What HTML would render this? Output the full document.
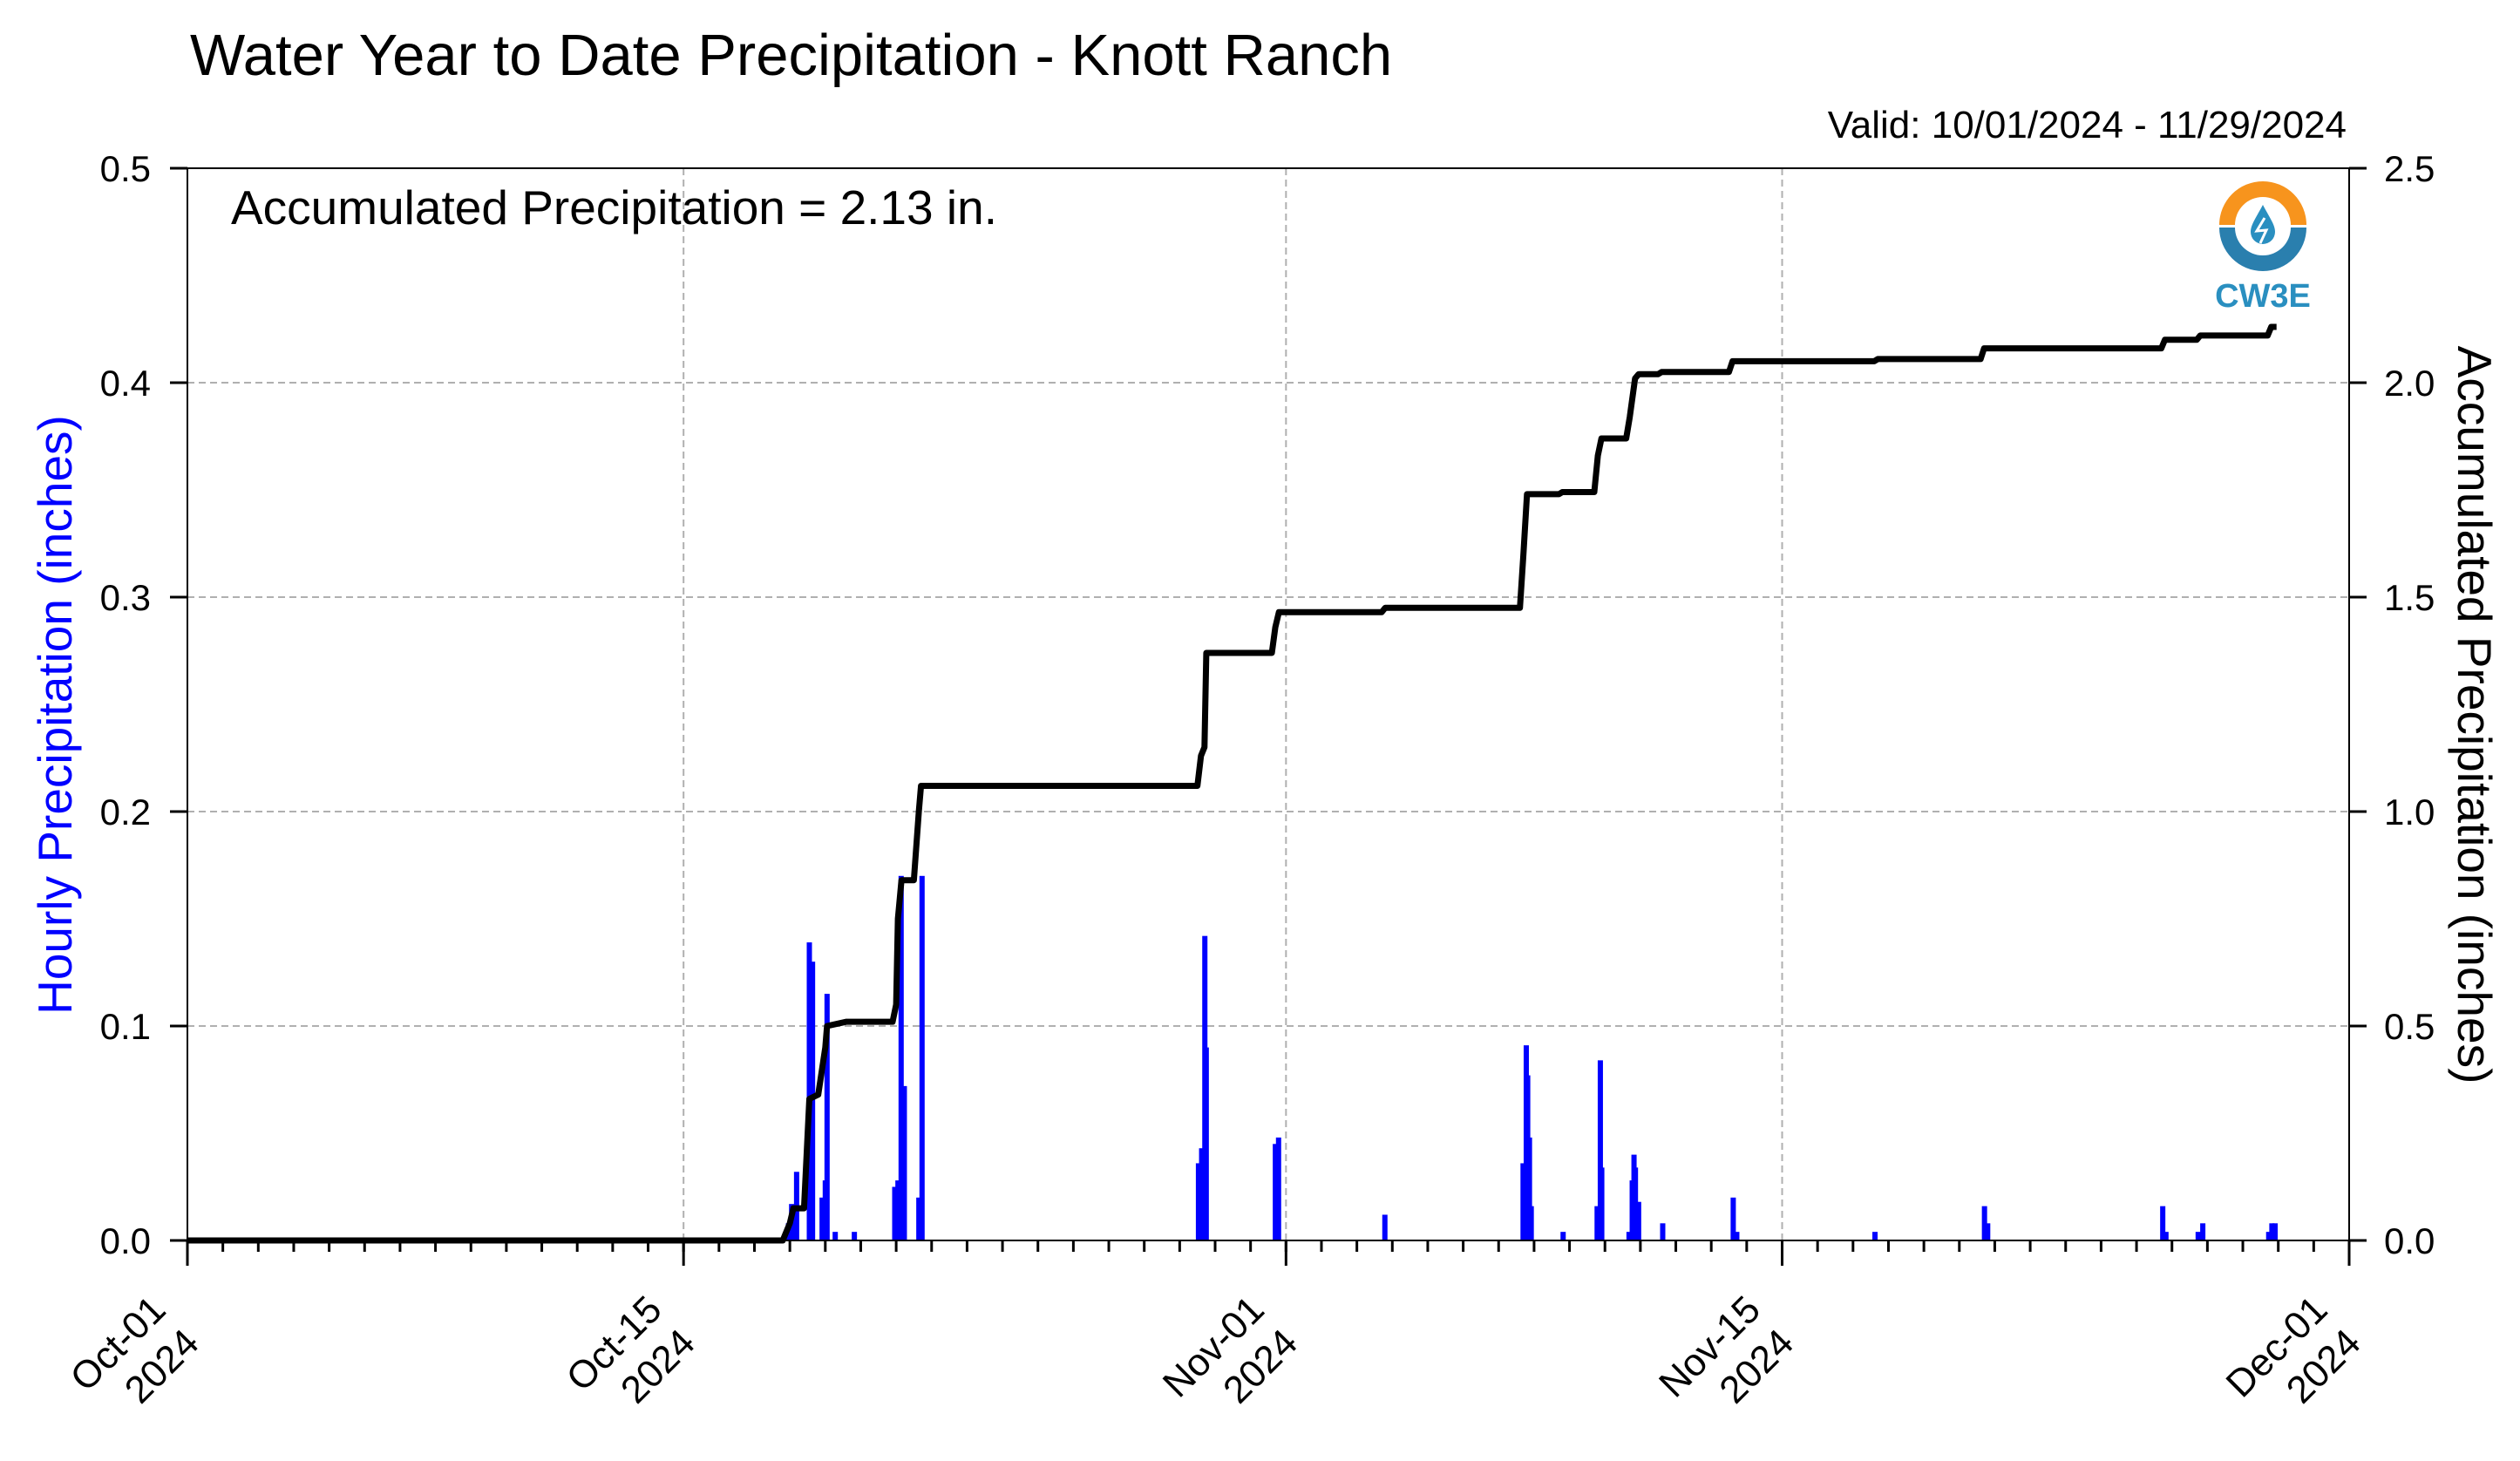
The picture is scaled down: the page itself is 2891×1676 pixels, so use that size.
<!DOCTYPE html>
<html><head><meta charset="utf-8"><style>
html,body{margin:0;padding:0;background:#fff;}
svg{display:block;font-family:"Liberation Sans",sans-serif;}
</style></head><body>
<svg id="chart" width="2891" height="1676" viewBox="0 0 2891 1676" xmlns="http://www.w3.org/2000/svg">
<rect width="2891" height="1676" fill="#fff"/>
<text x="218" y="86" font-size="67">Water Year to Date Precipitation - Knott Ranch</text>
<text x="2692" y="158" font-size="44" text-anchor="end">Valid: 10/01/2024 - 11/29/2024</text>
<g id="grid"></g>
<g id="bars"></g>
<path id="cum" fill="none" stroke="#000" stroke-width="7" stroke-linejoin="round"/>
<g id="axes"></g>
<text x="265" y="257" font-size="55">Accumulated Precipitation = 2.13 in.</text>
<text transform="translate(82,820) rotate(-90)" font-size="55" fill="#0000ff" text-anchor="middle">Hourly Precipitation (inches)</text>
<text transform="translate(2820,820) rotate(90)" font-size="55" fill="#000" text-anchor="middle">Accumulated Precipitation (inches)</text>
<g>
<path d="M2546,258 A50,50 0 0 1 2646,258 L2628,258 A32,32 0 0 0 2564,258 Z" fill="#f7941d"/>
<path d="M2546,261 A50,50 0 0 0 2646,261 L2628,261 A32,32 0 0 1 2564,261 Z" fill="#2a7fae"/>
<path d="M2596,235 C2588,250 2582,258 2582,266 A14,14 0 0 0 2610,266 C2610,258 2604,250 2596,235 Z" fill="#2a8fc0"/>
<path d="M2598,250 L2589,265 L2600,264 L2593,279" stroke="#fff" stroke-width="3" fill="none"/>
<text x="2596" y="352" font-size="38" font-weight="bold" fill="#2a8fc0" text-anchor="middle">CW3E</text>
</g>
</svg>
<script>
const barDays=[16.96,17.05,17.19,17.55,17.64,17.91,18.0,18.05,18.28,18.82,19.96,20.05,20.14,20.23,20.64,20.73,28.53,28.62,28.71,28.75,30.70,30.79,33.79,37.69,37.78,37.82,37.87,37.92,38.82,39.78,39.87,39.91,40.68,40.77,40.82,40.86,40.95,41.63,43.62,43.72,47.62,50.71,50.80,55.74,55.83,56.74,56.87,58.73,58.82,58.91];
const barVals=[0.008,0.017,0.032,0.139,0.13,0.02,0.028,0.115,0.004,0.004,0.025,0.028,0.17,0.072,0.02,0.17,0.036,0.043,0.142,0.09,0.045,0.048,0.012,0.036,0.091,0.077,0.048,0.016,0.004,0.016,0.084,0.034,0.004,0.028,0.04,0.034,0.018,0.008,0.02,0.004,0.004,0.016,0.008,0.016,0.004,0.004,0.008,0.004,0.008,0.008];
const cumDays=[0,16.8,17.0,17.1,17.4,17.55,17.8,18.0,18.05,18.6,19.9,20.0,20.05,20.15,20.5,20.64,20.7,28.5,28.6,28.7,28.75,30.6,30.7,30.8,33.7,33.8,37.6,37.7,37.8,38.7,38.8,39.7,39.8,39.9,40.6,40.7,40.85,40.95,41.5,41.6,43.5,43.6,47.6,47.7,50.6,50.7,55.7,55.8,56.7,56.8,58.7,58.8,58.95];
const cumVals=[0,0,0.04,0.075,0.075,0.33,0.34,0.45,0.50,0.51,0.51,0.55,0.75,0.84,0.84,1.0,1.06,1.06,1.13,1.15,1.37,1.37,1.43,1.465,1.465,1.475,1.475,1.6,1.74,1.74,1.745,1.745,1.83,1.87,1.87,1.92,2.01,2.02,2.02,2.025,2.025,2.05,2.05,2.055,2.055,2.08,2.08,2.10,2.10,2.11,2.11,2.13,2.13];
const leftTicks=["0.0","0.1","0.2","0.3","0.4","0.5"];
const rightTicks=["0.0","0.5","1.0","1.5","2.0","2.5"];
const xTickDays=[0,14,31,45,61];
const xTickLabels=[["Oct-01","2024"],["Oct-15","2024"],["Nov-01","2024"],["Nov-15","2024"],["Dec-01","2024"]];

const X0=215,X1=2695,Y0=1423,Y1=193,NS="http://www.w3.org/2000/svg";
const xs=d=>X0+(X1-X0)*d/61;
const yl=v=>Y0-(Y0-Y1)*v/0.5;
const yr=v=>Y0-(Y0-Y1)*v/2.5;
function mk(tag,attrs,parent){const e=document.createElementNS(NS,tag);for(const k in attrs)e.setAttribute(k,attrs[k]);parent.appendChild(e);return e;}
const grid=document.getElementById('grid'),axes=document.getElementById('axes'),bars=document.getElementById('bars');
for(let i=1;i<leftTicks.length-1;i++){const g=mk('line',{x1:X0,x2:X1,y1:yl(i*0.1),y2:yl(i*0.1),stroke:'#b0b0b0','stroke-width':2,'stroke-dasharray':'8,5'},grid);

}
for(let i=1;i<xTickDays.length-1;i++){const g=mk('line',{x1:xs(xTickDays[i]),x2:xs(xTickDays[i]),y1:Y1,y2:Y0,stroke:'#b0b0b0','stroke-width':2,'stroke-dasharray':'8,5'},grid);

}
barDays.forEach((d,i)=>{const h=Y0-yl(barVals[i]);const r=mk('rect',{x:xs(d)-3,y:yl(barVals[i]),width:6,height:h,fill:'#0000ff'},bars);

});
document.getElementById('cum').setAttribute('d',cumDays.map((d,i)=>(i?'L':'M')+xs(d).toFixed(1)+','+yr(cumVals[i]).toFixed(1)).join(''));
mk('rect',{x:X0,y:Y1,width:X1-X0,height:Y0-Y1,fill:'none',stroke:'#000','stroke-width':2},axes);
leftTicks.forEach((t,i)=>{const y=yl(i*0.1);mk('line',{x1:X0-20,x2:X0,y1:y,y2:y,stroke:'#000','stroke-width':3},axes);
const tx=mk('text',{x:X0-42,y:y+15,'font-size':42,'text-anchor':'end'},axes);tx.textContent=t;

});
rightTicks.forEach((t,i)=>{const y=yr(i*0.5);mk('line',{x1:X1,x2:X1+20,y1:y,y2:y,stroke:'#000','stroke-width':3},axes);
const tx=mk('text',{x:X1+40,y:y+15,'font-size':42},axes);tx.textContent=t;

});
for(let d=0;d<=61;d++){mk('line',{x1:xs(d),x2:xs(d),y1:Y0,y2:Y0+13,stroke:'#000','stroke-width':3},axes);}
xTickDays.forEach((d,i)=>{const x=xs(d);mk('line',{x1:x,x2:x,y1:Y0,y2:Y0+29,stroke:'#000','stroke-width':3},axes);
const g=mk('g',{transform:`translate(${x},${Y0}) rotate(-45)`},axes);


const a=mk('text',{x:-74,y:42,'font-size':44,'text-anchor':'end'},g);a.textContent=xTickLabels[i][0];
const b=mk('text',{x:-74,y:96,'font-size':44,'text-anchor':'end'},g);b.textContent=xTickLabels[i][1];});
</script>
</body></html>
